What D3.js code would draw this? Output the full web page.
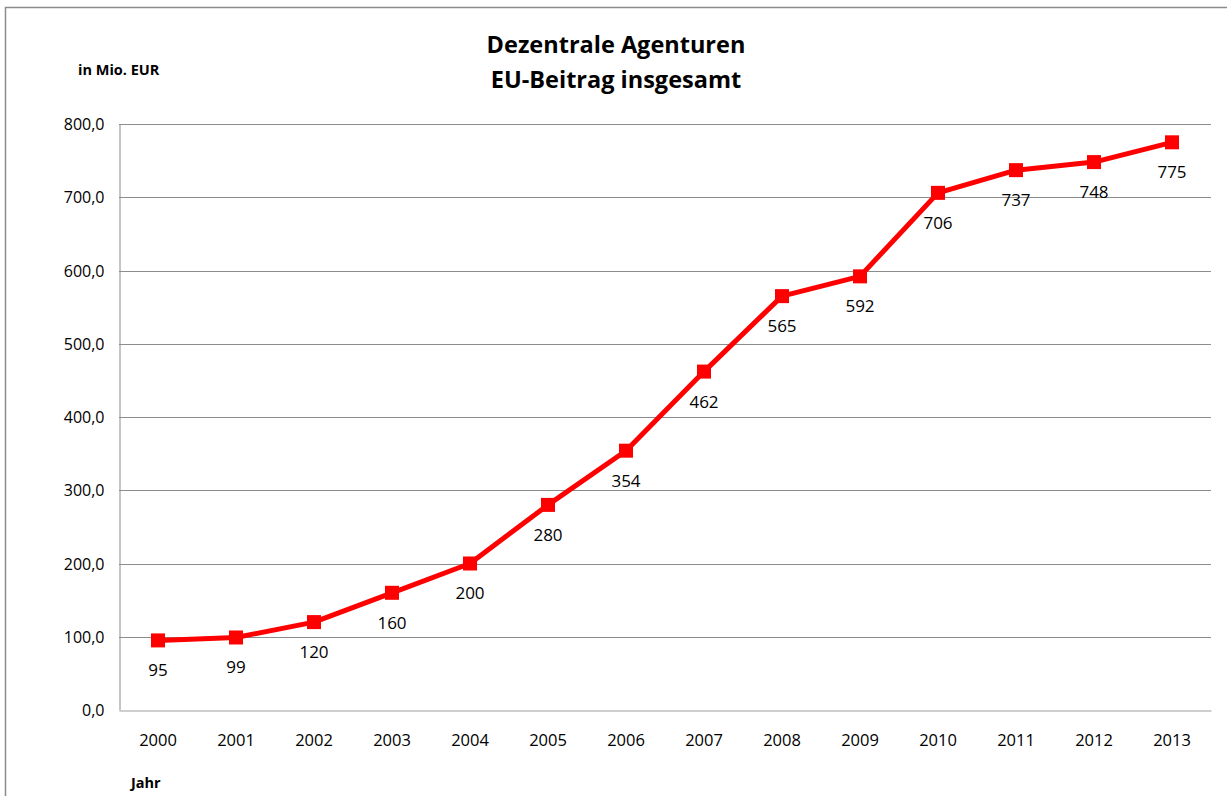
<!DOCTYPE html>
<html>
<head>
<meta charset="utf-8">
<script src="https://cdn.jsdelivr.net/npm/d3@7"></script>
<style>
  body { margin: 0; background: #fff; }
  svg { display: block; font-family: "Open Sans", sans-serif; }
</style>
</head>
<body>
<svg id="chart" width="1227" height="796"></svg>
<script>
var years = ['2000', '2001', '2002', '2003', '2004', '2005', '2006',
  '2007', '2008', '2009', '2010', '2011', '2012', '2013'];
var values = [95, 99, 120, 160, 200, 280, 354, 462, 565, 592, 706, 737, 748, 775];
var yTicks = [0, 100, 200, 300, 400, 500, 600, 700, 800];
var titleLines = ['Dezentrale Agenturen', 'EU-Beitrag insgesamt'];

var margin = { left: 119, top: 124, right: 1211, bottom: 710 };

var svg = d3.select('#chart');

// outer chart frame
svg.append('rect')
  .attr('x', 5.5)
  .attr('y', 7.5)
  .attr('width', 1240)
  .attr('height', 800)
  .style('fill', 'none')
  .style('stroke', '#8c8c8c')
  .style('stroke-width', 1.5);

var x = d3.scaleBand().domain(years).range([margin.left, margin.right]);
var y = d3.scaleLinear().domain([0, 800]).range([margin.bottom, margin.top]);

function cx(d, i) { return x(years[i]) + x.bandwidth() / 2; }

// gridlines
svg.append('g')
  .selectAll('line')
  .data(yTicks.slice(1))
  .enter()
  .append('line')
  .attr('x1', margin.left)
  .attr('x2', margin.right)
  .attr('y1', function(d) { return Math.round(y(d)) + 0.5; })
  .attr('y2', function(d) { return Math.round(y(d)) + 0.5; })
  .style('stroke', '#8c8c8c')
  .style('stroke-width', 1);

// y axis
var yAxis = svg.append('g')
  .attr('transform', 'translate(' + (margin.left + 0.5) + ',0)')
  .call(d3.axisLeft(y).tickValues(yTicks).tickSize(0).tickPadding(15)
    .tickFormat(function(d) { return d3.format('.1f')(d).replace('.', ','); }));
yAxis.attr('font-size', null).attr('font-family', null);
yAxis.select('.domain').style('stroke', '#8c8c8c');
yAxis.selectAll('text').style('font-size', '16px').style('fill', '#000')
  .attr('dy', '0.35em');

// x axis
var xAxis = svg.append('g')
  .attr('transform', 'translate(0,' + (margin.bottom + 0.5) + ')')
  .call(d3.axisBottom(x).tickSize(0).tickPadding(24));
xAxis.attr('font-size', null).attr('font-family', null);
xAxis.select('.domain').style('stroke', '#bfbfbf').style('stroke-width', 1.5);
xAxis.selectAll('text').style('font-size', '16.5px').style('fill', '#000');

// line
var line = d3.line()
  .x(cx)
  .y(function(d) { return y(d); });

svg.append('path')
  .datum(values)
  .attr('d', line)
  .style('fill', 'none')
  .style('stroke', '#ff0000')
  .style('stroke-width', 5)
  .style('stroke-linejoin', 'round');

svg.append('g')
  .selectAll('rect')
  .data(values)
  .enter()
  .append('rect')
  .attr('x', function(d, i) { return cx(d, i) - 7; })
  .attr('y', function(d) { return y(d) - 7; })
  .attr('width', 14)
  .attr('height', 14)
  .style('fill', '#ff0000');

// data labels
svg.append('g')
  .selectAll('text')
  .data(values)
  .enter()
  .append('text')
  .attr('x', cx)
  .attr('y', function(d) { return y(d) + 30; })
  .attr('dy', '0.35em')
  .attr('text-anchor', 'middle')
  .style('font-size', '17px')
  .text(function(d) { return d; });

// titles
svg.append('text')
  .attr('x', 616)
  .attr('text-anchor', 'middle')
  .style('font-size', '23.5px')
  .style('font-weight', 'bold')
  .selectAll('tspan')
  .data(titleLines)
  .enter()
  .append('tspan')
  .attr('x', 616)
  .attr('y', function(d, i) { return 53 + i * 35; })
  .text(function(d) { return d; });

svg.append('text')
  .attr('x', 78)
  .attr('y', 75)
  .style('font-size', '14.5px')
  .style('font-weight', 'bold')
  .text('in Mio. EUR');

svg.append('text')
  .attr('x', 131)
  .attr('y', 788)
  .style('font-size', '14.5px')
  .style('font-weight', 'bold')
  .text('Jahr');
</script>
</body>
</html>
